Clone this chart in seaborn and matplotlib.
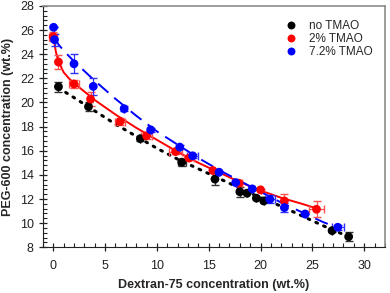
import numpy as np
import pandas as pd
import matplotlib
matplotlib.use("Agg")
import matplotlib.pyplot as plt
from matplotlib.ticker import MultipleLocator, AutoMinorLocator
import seaborn as sns

# measured binodal points
x_none = [0.5, 3.4, 8.4, 12.4, 15.6, 18.0, 18.7, 19.6, 20.3, 26.9, 28.5]
y_none = [21.3, 19.65, 17.0, 15.05, 13.65, 12.6, 12.48, 12.07, 11.84, 9.38, 8.88]
yerr_none = [0.4, 0.35, 0.2, 0.3, 0.5, 0.4, 0.0, 0.1, 0.1, 0.1, 0.35]
xerr_none = [0.0, 0.0, 0.0, 0.4, 0.0, 0.0, 0.0, 0.0, 0.0, 0.0, 0.0]

x_2 = [0.0, 0.5, 2.0, 3.6, 6.45, 9.0, 11.8, 13.1, 15.4, 17.9, 20.0, 22.3, 25.4]
y_2 = [25.45, 23.35, 21.53, 20.28, 18.42, 17.24, 15.93, 15.39, 14.36, 13.31, 12.76, 11.84, 11.15]
yerr_2 = [0.4, 0.6, 0.3, 0.6, 0.3, 0.3, 0.2, 0.2, 0.1, 0.2, 0.1, 0.55, 0.65]
xerr_2 = [0.4, 0.0, 0.5, 0.0, 0.5, 0.5, 0.6, 0.5, 0.0, 0.3, 0.0, 0.0, 0.7]

x_72 = [0.03, 0.12, 2.0, 3.86, 6.84, 9.4, 12.2, 13.45, 16.0, 17.6, 19.2, 20.9, 22.3, 24.3, 27.45]
y_72 = [26.22, 25.2, 23.2, 21.33, 19.48, 17.73, 16.3, 15.58, 14.22, 13.36, 12.84, 11.98, 11.29, 10.76, 9.66]
yerr_72 = [0.0, 0.5, 0.8, 0.7, 0.2, 0.15, 0.15, 0.15, 0.1, 0.1, 0.1, 0.35, 0.35, 0.0, 0.2]
xerr_72 = [0.0, 0.0, 0.0, 0.0, 0.0, 0.0, 0.0, 0.5, 0.0, 0.0, 0.0, 0.5, 0.0, 0.0, 0.6]

# fitted binodal curves
fx_none = [0.5, 2, 4, 6, 8, 10, 12, 14, 16, 18, 20, 22, 24, 26, 28.3]
fy_none = [21.2, 20.4, 19.3, 18.2, 17.2, 16.2, 15.3, 14.5, 13.7, 12.9, 12.1, 11.4, 10.6, 9.8, 8.95]
fx_2 = [0, 0.25, 0.5, 1, 1.5, 2, 3, 4, 5, 6, 8, 10, 12, 14, 16, 18, 20, 22, 24, 25.5]
fy_2 = [25.5, 24.2, 23.4, 22.5, 22.0, 21.6, 20.9, 20.2, 19.6, 19.0, 17.9, 16.9, 15.9, 15.0, 14.2, 13.4, 12.7, 12.1, 11.6, 11.2]
fx_72 = [0.1, 0.5, 1, 2, 3, 4, 6, 8, 10, 12, 14, 16, 18, 20, 22, 24, 26, 27.5]
fy_72 = [25.4, 24.8, 24.3, 23.4, 22.6, 21.8, 20.3, 18.9, 17.6, 16.5, 15.4, 14.4, 13.5, 12.6, 11.7, 10.9, 10.1, 9.6]

labels = ["no TMAO", "2% TMAO", "7.2% TMAO"]
colors = ["#000000", "#ff0000", "#0000ff"]

sns.set_style("ticks")
plt.rcParams['font.family'] = ['Liberation Sans', 'DejaVu Sans']

fig = plt.figure(figsize=(3.9, 2.93), dpi=100)
ax = fig.add_axes([0.11, 0.156, 0.877, 0.824])

# fit lines
sns.lineplot(x=fx_none, y=fy_none, sort=False, color=colors[0], lw=2.2,
             linestyle=(0, (0.6, 2.2)), dash_capstyle='round', ax=ax)
sns.lineplot(x=fx_2, y=fy_2, sort=False, color=colors[1], lw=1.4, ax=ax)
sns.lineplot(x=fx_72, y=fy_72, sort=False, color=colors[2], lw=1.4,
             linestyle=(0, (7, 4)), ax=ax)

# error bars
ax.errorbar(x_none, y_none, yerr=yerr_none, xerr=xerr_none, fmt='none',
            ecolor='#333333', elinewidth=0.9, capsize=3, zorder=3)
ax.errorbar(x_2, y_2, yerr=yerr_2, xerr=xerr_2, fmt='none',
            ecolor='#ff5050', elinewidth=0.9, capsize=3, zorder=3)
ax.errorbar(x_72, y_72, yerr=yerr_72, xerr=xerr_72, fmt='none',
            ecolor='#3030ff', elinewidth=0.9, capsize=3, zorder=3)

# points
pts = pd.concat([
    pd.DataFrame({'x': x_none, 'y': y_none, 'set': labels[0]}),
    pd.DataFrame({'x': x_2, 'y': y_2, 'set': labels[1]}),
    pd.DataFrame({'x': x_72, 'y': y_72, 'set': labels[2]}),
])
sns.scatterplot(data=pts, x='x', y='y', hue='set', palette=colors, s=40,
                edgecolor='none', zorder=4, ax=ax)

ax.set_xlim(-1, 32)
ax.set_ylim(8, 28)
ax.xaxis.set_major_locator(MultipleLocator(5))
ax.xaxis.set_minor_locator(MultipleLocator(1))
ax.yaxis.set_major_locator(MultipleLocator(2))
ax.yaxis.set_minor_locator(AutoMinorLocator(5))
ax.tick_params(which='major', direction='inout', length=6, width=0.9, labelsize=9, colors='#222222')
ax.tick_params(which='minor', direction='in', length=3, width=0.8, colors='#222222')
ax.tick_params(axis='x', pad=6)
for s in ['left', 'bottom']:
    ax.spines[s].set_color('#222222')
for s in ['top', 'right']:
    ax.spines[s].set_color('#8c8c8c')
    ax.spines[s].set_linewidth(1.2)

ax.set_xlabel("Dextran-75 concentration (wt.%)", fontsize=9, fontweight='bold', labelpad=5)
ax.set_ylabel("PEG-600 concentration (wt.%)", fontsize=9, fontweight='bold', labelpad=4)

ax.legend(frameon=False, loc='upper right', fontsize=8.5, handletextpad=0.6,
          labelspacing=0.1, markerscale=0.9, borderaxespad=0.6,
          bbox_to_anchor=(1.0, 0.99))

fig.savefig("out.png", dpi=100)
